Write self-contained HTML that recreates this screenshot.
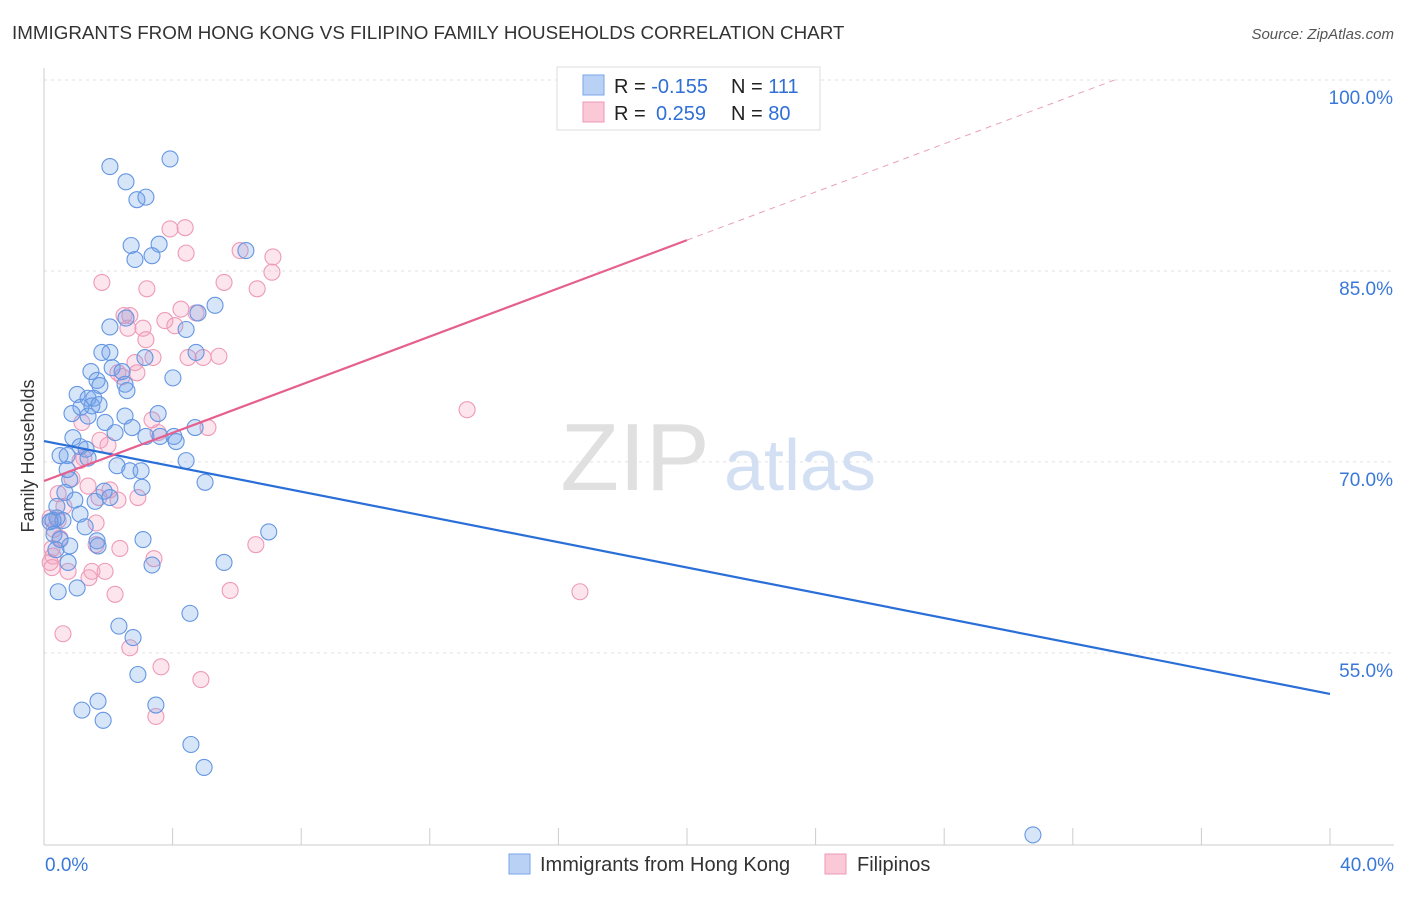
<!DOCTYPE html>
<html><head><meta charset="utf-8"><style>
body{margin:0;background:#fff;font-family:"Liberation Sans",sans-serif;}
svg text{font-family:"Liberation Sans",sans-serif;}
</style></head><body>
<svg id="chart" width="1406" height="892" viewBox="0 0 1406 892" xmlns="http://www.w3.org/2000/svg">
<text x="12" y="39" font-size="18.8" fill="#333">IMMIGRANTS FROM HONG KONG VS FILIPINO FAMILY HOUSEHOLDS CORRELATION CHART</text>
<text x="1394" y="39" font-size="15" fill="#555" font-style="italic" text-anchor="end">Source: ZipAtlas.com</text>
<g id="grid"></g>
<g>
<text x="635" y="490" font-size="96" fill="#e0e0e0" font-family="Liberation Serif" text-anchor="middle">ZIP</text>
<text x="800" y="490" font-size="72" fill="#d3dff2" text-anchor="middle">atlas</text>
</g>
<g id="axes"></g>
<g id="pts"></g>
<g id="lines"></g>
<text transform="translate(34,456) rotate(-90)" font-size="18" fill="#333" text-anchor="middle">Family Households</text>
<g>
<rect x="557" y="67" width="263" height="63" fill="#fff" stroke="#ddd"/>
<rect x="583" y="75" width="21" height="20" fill="#b9d1f5" stroke="#7aa6e8"/>
<rect x="583" y="102" width="21" height="20" fill="#fbc8d8" stroke="#ee9ab8"/>
<text x="614" y="93" font-size="20" fill="#222">R = <tspan fill="#2f6fd6">-0.155</tspan><tspan x="731">N = </tspan><tspan fill="#2f6fd6">111</tspan></text>
<text x="614" y="120" font-size="20" fill="#222">R = <tspan x="656" fill="#2f6fd6">0.259</tspan><tspan x="731">N = </tspan><tspan fill="#2f6fd6">80</tspan></text>
</g>
<g>
<rect x="509" y="854" width="21" height="20" fill="#b9d1f5" stroke="#7aa6e8"/>
<text x="540" y="871" font-size="20" fill="#333">Immigrants from Hong Kong</text>
<rect x="825" y="854" width="21" height="20" fill="#fbc8d8" stroke="#ee9ab8"/>
<text x="857" y="871" font-size="20" fill="#333">Filipinos</text>
</g>
</svg>
<script>
const yTicks=[55,70,85,100];
const yTickLabels=["55.0%","70.0%","85.0%","100.0%"];
const xTicks=[0,4,8,12,16,20,24,28,32,36,40];
const xEndLabels=["0.0%","40.0%"];
const blueX=[2.05,3.92,2.55,2.89,3.17,2.71,3.58,2.83,3.36,6.28,5.32,4.79,2.55,2.05,4.42,1.80,2.05,3.14,4.73,1.46,2.12,2.43,4.01,1.65,1.74,2.52,2.58,1.03,1.37,1.55,1.15,1.49,1.71,0.87,1.37,2.52,3.55,1.90,2.74,4.70,2.21,0.90,3.17,3.61,4.04,4.11,1.12,1.31,0.50,0.72,1.37,4.42,2.27,2.67,3.02,0.72,5.01,0.80,3.05,0.65,1.87,2.05,1.59,0.96,0.40,1.12,0.40,0.59,0.28,0.19,1.28,6.99,0.31,3.08,0.50,1.65,1.68,0.80,0.37,5.60,3.36,0.75,1.03,0.44,4.54,2.33,2.77,2.92,1.68,1.18,3.48,1.84,4.57,4.98,30.76];
const blueY=[93.2,93.8,92.0,90.6,90.8,87.0,87.1,85.9,86.2,86.6,82.3,81.7,81.3,80.6,80.4,78.6,78.6,78.2,78.6,77.1,77.4,77.1,76.6,76.4,76.0,76.1,75.6,75.3,75.0,75.0,74.3,74.4,74.5,73.8,73.6,73.6,73.8,73.1,72.7,72.7,72.3,71.9,72.0,72.0,72.0,71.6,71.2,71.0,70.5,70.5,70.3,70.1,69.7,69.3,69.3,69.4,68.4,68.6,68.0,67.6,67.7,67.2,66.9,67.0,66.5,65.9,65.6,65.4,65.4,65.3,64.9,64.5,64.3,63.9,63.9,63.8,63.4,63.4,63.1,62.1,61.9,62.1,60.1,59.8,58.1,57.1,56.2,53.3,51.2,50.5,50.9,49.7,47.8,46.0,40.7];
const pinkX=[3.92,4.39,4.42,6.10,7.12,7.09,1.80,5.60,3.20,6.63,4.26,4.73,2.49,2.67,3.76,4.07,3.08,2.61,3.17,5.44,4.48,4.95,3.39,2.83,2.30,2.89,2.43,13.16,3.36,1.18,5.10,3.55,1.74,1.99,1.24,1.12,0.87,1.37,2.05,0.44,1.71,2.30,2.92,0.62,0.44,1.62,0.19,0.31,0.50,1.62,6.59,2.36,0.25,0.28,3.42,0.19,0.25,0.75,1.49,1.90,1.40,5.79,16.67,2.21,0.59,2.67,3.64,4.88,3.48];
const pinkY=[88.3,88.4,86.4,86.6,86.1,84.9,84.1,84.1,83.6,83.6,82.0,81.7,81.5,81.5,81.1,80.7,80.5,80.5,79.6,78.3,78.2,78.2,78.2,77.8,77.0,77.0,76.7,74.1,73.3,73.1,72.7,72.3,71.7,71.3,70.3,70.1,68.7,68.1,67.8,67.5,67.2,67.0,67.2,66.5,65.4,65.2,65.6,64.7,64.0,63.5,63.5,63.2,63.2,62.6,62.4,62.1,61.7,61.4,61.4,61.4,60.9,59.9,59.8,59.6,56.5,55.4,53.9,52.9,50.0];
const blueTrend=[71.64,51.77];
const pinkTrend=[68.5,0.946];
const NS="http://www.w3.org/2000/svg";
function sx(v){return 44+v*32.15;}
function sy(v){return 80+(100-v)*12.73;}
function mk(tag,attrs,parent){const e=document.createElementNS(NS,tag);for(const k in attrs)e.setAttribute(k,attrs[k]);parent.appendChild(e);return e;}
const grid=document.getElementById('grid'),axes=document.getElementById('axes'),pts=document.getElementById('pts'),lines=document.getElementById('lines');
yTicks.forEach((t,i)=>{
 const l=mk('line',{x1:44,x2:1394,y1:sy(t),y2:sy(t),stroke:'#e2e2e2','stroke-dasharray':'3,4'},grid);
 
 
 const tx=mk('text',{x:1393,y:sy(t)+24,'font-size':19,fill:'#3a78d8','text-anchor':'end'},axes);
 tx.textContent=yTickLabels[i];
 
 
});
const ya=mk('line',{x1:44,x2:44,y1:68,y2:845,stroke:'#ccc'},axes);


const xa=mk('line',{x1:44,x2:1394,y1:845,y2:845,stroke:'#ccc'},axes);


xTicks.forEach(t=>{
 const l=mk('line',{x1:sx(t),x2:sx(t),y1:828,y2:845,stroke:'#ccc'},axes);
 
 
});
[[0,'start',45],[40,'end',1394]].forEach((d,i)=>{
 const tx=mk('text',{x:d[2],y:871,'font-size':19,fill:'#3a78d8','text-anchor':d[1]},axes);
 tx.textContent=xEndLabels[i];
 
 
});
function drawPts(X,Y,fill,stroke,name){
 X.forEach((x,i)=>{
  const c=mk('circle',{cx:sx(x),cy:sy(Y[i]),r:8,fill:fill,stroke:stroke,'stroke-width':1.1},pts);
  
  
 });
}
drawPts(pinkX,pinkY,'rgba(245,160,190,0.28)','#ee9ab8','filipinos-point');
drawPts(blueX,blueY,'rgba(110,160,235,0.28)','#6496e2','hong-kong-point');
const bl=mk('line',{x1:sx(0),y1:sy(blueTrend[0]),x2:sx(40),y2:sy(blueTrend[1]),stroke:'#2a6fd8','stroke-width':2.2},lines);


const pEnd=(100-pinkTrend[0])/pinkTrend[1];
const pl=mk('line',{x1:sx(0),y1:sy(pinkTrend[0]),x2:sx(20),y2:sy(pinkTrend[0]+20*pinkTrend[1]),stroke:'#e5608e','stroke-width':2.2},lines);


const pd=mk('line',{x1:sx(20),y1:sy(pinkTrend[0]+20*pinkTrend[1]),x2:sx(pEnd),y2:sy(100),stroke:'#eaa0bb','stroke-width':1,'stroke-dasharray':'6,5'},lines);


</script>
</body></html>
